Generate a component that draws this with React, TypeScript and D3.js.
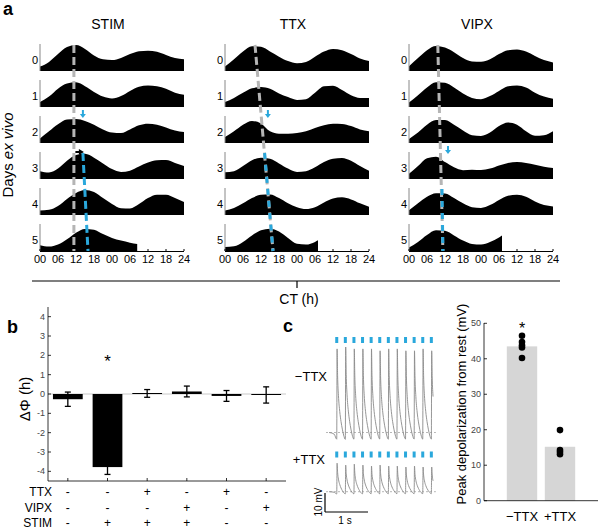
import React from 'react';
import * as d3 from 'd3';

// ---------------- Panel a data ----------------
const HOURS = [0, 3, 6, 9, 12, 15, 18, 21, 24, 27, 30, 33, 36, 39, 42, 45, 48];
const DAY_LABELS = ['0', '1', '2', '3', '4', '5'];
const CT_TICKS = [0, 6, 12, 18, 24, 30, 36, 42, 48];
const CT_TICK_LABELS = ['00', '06', '12', '18', '00', '06', '12', '18', '24'];
const PANEL_TITLES = ['STIM', 'TTX', 'VIPX'];

const STIM_ROWS = [
  [0.17, 0.35, 0.65, 0.92, 1.0, 0.85, 0.6, 0.45, 0.42, 0.5, 0.65, 0.76, 0.78, 0.74, 0.62, 0.5, 0.45],
  [0.19, 0.4, 0.7, 0.9, 0.95, 0.8, 0.58, 0.4, 0.33, 0.42, 0.62, 0.78, 0.83, 0.8, 0.7, 0.55, 0.47],
  [0.17, 0.45, 0.72, 0.9, 0.92, 0.85, 0.7, 0.52, 0.4, 0.38, 0.52, 0.68, 0.74, 0.7, 0.6, 0.48, 0.42],
  [0.3, 0.25, 0.4, 0.7, 0.92, 0.97, 0.82, 0.6, 0.38, 0.27, 0.32, 0.48, 0.63, 0.72, 0.73, 0.62, 0.5],
  [0.17, 0.2, 0.35, 0.62, 0.85, 0.96, 0.88, 0.65, 0.42, 0.26, 0.25, 0.42, 0.65, 0.78, 0.78, 0.65, 0.5],
  [0.22, 0.17, 0.25, 0.45, 0.7, 0.85, 0.82, 0.65, 0.5, 0.4, 0.32, 0.27],
];
const TTX_ROWS = [
  [0.17, 0.45, 0.75, 0.95, 0.93, 0.75, 0.55, 0.38, 0.3, 0.35, 0.55, 0.75, 0.85, 0.8, 0.65, 0.48, 0.38],
  [0.19, 0.35, 0.55, 0.72, 0.77, 0.7, 0.52, 0.38, 0.27, 0.3, 0.55, 0.8, 0.82, 0.65, 0.45, 0.35, 0.35],
  [0.23, 0.45, 0.7, 0.85, 0.75, 0.45, 0.36, 0.36, 0.38, 0.45, 0.58, 0.68, 0.74, 0.73, 0.65, 0.52, 0.45],
  [0.26, 0.3, 0.5, 0.72, 0.82, 0.78, 0.6, 0.4, 0.27, 0.3, 0.45, 0.65, 0.78, 0.81, 0.7, 0.5, 0.32],
  [0.17, 0.27, 0.45, 0.65, 0.78, 0.79, 0.65, 0.45, 0.3, 0.23, 0.3, 0.48, 0.63, 0.68, 0.6, 0.45, 0.32],
  [0.15, 0.18, 0.35, 0.6, 0.8, 0.86, 0.75, 0.5, 0.28, 0.25, 0.35, 0.41],
];
const VIPX_ROWS = [
  [0.18, 0.5, 0.8, 0.96, 0.9, 0.72, 0.5, 0.37, 0.36, 0.45, 0.65, 0.8, 0.83, 0.75, 0.58, 0.42, 0.33],
  [0.17, 0.45, 0.75, 0.95, 0.93, 0.75, 0.52, 0.35, 0.3, 0.42, 0.62, 0.8, 0.83, 0.75, 0.55, 0.4, 0.32],
  [0.15, 0.4, 0.7, 0.88, 0.88, 0.7, 0.48, 0.3, 0.27, 0.4, 0.65, 0.79, 0.7, 0.45, 0.28, 0.3, 0.45],
  [0.2, 0.5, 0.8, 0.86, 0.65, 0.45, 0.34, 0.36, 0.35, 0.4, 0.52, 0.62, 0.65, 0.62, 0.55, 0.47, 0.42],
  [0.18, 0.45, 0.7, 0.84, 0.83, 0.65, 0.45, 0.3, 0.27, 0.38, 0.58, 0.74, 0.78, 0.7, 0.52, 0.38, 0.33],
  [0.13, 0.35, 0.62, 0.8, 0.78, 0.6, 0.4, 0.27, 0.25, 0.35, 0.52, 0.6],
];
const PANEL_ROWS = [STIM_ROWS, TTX_ROWS, VIPX_ROWS];
const LAST_DAY_END = [32.4, 31, 31];

const GRAY_START_HOUR = [11.3, 10, 9.6];
const GRAY_END_HOUR = [11.3, 16, 11.3];
const BLUE_START_ROW = [3, 3, 4];
const BLUE_START_HOUR = [14.3, 13.2, 11];
const BLUE_END_HOUR = [16, 16, 11.3];
const BLUE_ARROW_ROW = [2, 2, 3];
const BLUE_ARROW_HOUR = [14.3, 14.3, 13];
const BLACK_ARROW_FROM = 11.8;
const BLACK_ARROW_TO = 14.3;

// ---------------- Panel b data ----------------
const B_CATS = ['g1', 'g2', 'g3', 'g4', 'g5', 'g6'];
const B_VALUES = [-0.27, -3.78, 0.03, 0.13, -0.1, -0.05];
const B_ERR = [0.37, 0.38, 0.2, 0.28, 0.28, 0.42];
const B_TICKS = [-4, -3, -2, -1, 0, 1, 2, 3, 4];
const B_TABLE_ROWS = ['TTX', 'VIPX', 'STIM'];
const B_TABLE = [
  ['-', '-', '+', '-', '+', '-'],
  ['-', '-', '-', '+', '-', '+'],
  ['-', '+', '+', '+', '-', '-'],
];

// ---------------- Panel c data ----------------
const PULSE_PERIOD = 0.2;
const FIRST_PULSE = 0.18;
const TRACE_END = 2.44;
const KERNEL_T = [0, 0.008, 0.02, 0.04, 0.07, 0.1, 0.13, 0.16, 0.2];
const KERNEL_V = [-0.08, 1.0, 0.68, 0.44, 0.25, 0.13, 0.04, -0.03, -0.08];
const MINUS_TTX_PEAKS = [44, 45, 44, 44, 44, 43, 44, 44, 43, 43, 44, 43];
const PLUS_TTX_PEAKS = [15, 14, 14.5, 14, 13.5, 14, 13.5, 13.5, 13, 13.5, 13, 13];
const C_CATS = ['\u2212TTX', '+TTX'];
const C_MEANS = [43.5, 15.2];
const C_POINTS = [
  [46.5, 44.7, 43.8, 43.2, 40.2],
  [19.9, 14.3, 13.7, 13.1],
];
const C_TICKS = [0, 10, 20, 30, 40, 50];

const FONT = '"Liberation Sans", Arial, Helvetica, sans-serif';
const BLUE = '#2aa8dc';
const GRAY_DASH = '#b5b5b5';

function PanelA() {
  const lefts = [40, 225, 409];
  const W = 144;
  const ROW_H = 26;
  const base = (i: number) => 71 + 36 * i;
  const els: React.ReactNode[] = [];
  PANEL_ROWS.forEach((rows, p) => {
    const x = d3.scaleLinear().domain([0, 48]).range([lefts[p], lefts[p] + W]);
    els.push(
      <text key={`t${p}`} x={x(24) - 4} y={29} fontSize={14} textAnchor="middle">
        {PANEL_TITLES[p]}
      </text>
    );
    rows.forEach((vals, r) => {
      const b = base(r);
      const last = r === rows.length - 1;
      const pts: [number, number][] = vals.map((v, i) => [
        last && i === vals.length - 1 ? LAST_DAY_END[p] : HOURS[i],
        v,
      ]);
      const area = d3
        .area<[number, number]>()
        .x((d) => x(d[0]))
        .y0(b)
        .y1((d) => b - d[1] * ROW_H)
        .curve(d3.curveMonotoneX);
      els.push(<path key={`a${p}-${r}`} d={area(pts) || ''} fill="#000" />);
      els.push(
        <line key={`ax${p}-${r}`} x1={x(0)} x2={x(0)} y1={b - ROW_H - 1} y2={b} stroke="#888" strokeWidth={1} />
      );
      els.push(
        <text key={`dl${p}-${r}`} x={x(0) - 2} y={b - 7} fontSize={11} textAnchor="end">
          {DAY_LABELS[r]}
        </text>
      );
    });
    const by = base(5);
    els.push(<line key={`xa${p}`} x1={x(0)} x2={x(48)} y1={by + 0.5} y2={by + 0.5} stroke="#000" strokeWidth={1} />);
    CT_TICKS.forEach((h, i) => {
      els.push(<line key={`tk${p}-${i}`} x1={x(h)} x2={x(h)} y1={by} y2={by - 2} stroke="#000" strokeWidth={1} />);
      els.push(
        <text key={`tl${p}-${i}`} x={x(h)} y={by + 12} fontSize={11} textAnchor="middle">
          {CT_TICK_LABELS[i]}
        </text>
      );
    });
    // dashed phase lines
    const topY = base(0) - ROW_H;
    els.push(
      <line key={`g${p}`} x1={x(GRAY_START_HOUR[p])} y1={topY} x2={x(GRAY_END_HOUR[p])} y2={by}
        stroke={GRAY_DASH} strokeWidth={3} strokeDasharray="8 4" />
    );
    const bTop = base(BLUE_START_ROW[p]) - ROW_H;
    els.push(
      <line key={`bl${p}`} x1={x(BLUE_START_HOUR[p])} y1={bTop} x2={x(BLUE_END_HOUR[p])} y2={by}
        stroke={BLUE} strokeWidth={3} strokeDasharray={p === 0 ? '8 4' : '6 6'} />
    );
    // blue arrow
    const ay = base(BLUE_ARROW_ROW[p]) - ROW_H;
    const ax = x(BLUE_ARROW_HOUR[p]);
    els.push(
      <g key={`ba${p}`}>
        <line x1={ax} x2={ax} y1={ay - 7} y2={ay - 2} stroke={BLUE} strokeWidth={2} />
        <path d={`M${ax - 3},${ay - 3} L${ax + 3},${ay - 3} L${ax},${ay + 1} Z`} fill={BLUE} />
      </g>
    );
    if (p === 0) {
      const ky = base(3) - ROW_H - 1;
      const kx1 = x(BLACK_ARROW_FROM);
      const kx2 = x(BLACK_ARROW_TO);
      els.push(
        <g key="karrow">
          <line x1={kx1} x2={kx2 - 3} y1={ky} y2={ky} stroke="#000" strokeWidth={2} />
          <path d={`M${kx2 - 4},${ky - 3} L${kx2 + 1},${ky} L${kx2 - 4},${ky + 3} Z`} fill="#000" />
        </g>
      );
    }
  });
  return (
    <g>
      <text x={3} y={15} fontSize={18} fontWeight="bold">a</text>
      <text transform="translate(13,155) rotate(-90)" fontSize={15} textAnchor="middle">
        Days <tspan fontStyle="italic">ex vivo</tspan>
      </text>
      {els}
      <line x1={32} x2={560} y1={281} y2={281} stroke="#000" strokeWidth={1.2} />
      <line x1={297} x2={297} y1={281} y2={288} stroke="#000" strokeWidth={1.2} />
      <text x={299} y={304} fontSize={14} textAnchor="middle">CT (h)</text>
    </g>
  );
}

function PanelB() {
  const y = d3.scaleLinear().domain([-4.5, 4.5]).range([481, 307]);
  const x = d3.scaleBand().domain(B_CATS).range([48, 286]).paddingInner(0.25).paddingOuter(0.125);
  const bw = x.bandwidth();
  const rowY = (r: number) => 496 + 15.5 * r;
  return (
    <g>
      <text x={7} y={333} fontSize={18} fontWeight="bold">b</text>
      <text transform="translate(30,399) rotate(-90)" fontSize={15} textAnchor="middle">
        ΔΦ (h)
      </text>
      <line x1={48} x2={286} y1={y(0)} y2={y(0)} stroke="#bbb" strokeWidth={0.8} />
      {B_CATS.map((c, i) => {
        const v = B_VALUES[i];
        const cx = (x(c) || 0) + bw / 2;
        const h = Math.max(1, Math.abs(y(v) - y(0)));
        const lo = y(v - B_ERR[i]);
        const hi = y(v + B_ERR[i]);
        return (
          <g key={c}>
            <rect x={x(c)} y={v >= 0 ? y(0) - h : y(0)} width={bw} height={h} fill="#000" />
            <line x1={cx} x2={cx} y1={lo} y2={hi} stroke="#000" strokeWidth={1.3} />
            <line x1={cx - 3} x2={cx + 3} y1={lo} y2={lo} stroke="#000" strokeWidth={1.3} />
            <line x1={cx - 3} x2={cx + 3} y1={hi} y2={hi} stroke="#000" strokeWidth={1.3} />
            <line x1={cx} x2={cx} y1={481} y2={478} stroke="#000" strokeWidth={0.8} />
            {B_TABLE.map((row, r) => (
              <text key={r} x={cx} y={rowY(r)} fontSize={12} textAnchor="middle">
                {row[i]}
              </text>
            ))}
          </g>
        );
      })}
      <text x={(x('g2') || 0) + bw / 2} y={y(1.75) + 7} fontSize={17} textAnchor="middle">*</text>
      <line x1={48} x2={48} y1={307} y2={481} stroke="#000" strokeWidth={0.8} />
      <line x1={48} x2={286} y1={481} y2={481} stroke="#000" strokeWidth={0.8} />
      {B_TICKS.map((t) => (
        <g key={t}>
          <line x1={48} x2={51} y1={y(t)} y2={y(t)} stroke="#000" strokeWidth={0.8} />
          <text x={45} y={y(t) + 3} fontSize={9} fill="#444" textAnchor="end">{t}</text>
        </g>
      ))}
      {B_TABLE_ROWS.map((lab, r) => (
        <text key={lab} x={52} y={rowY(r)} fontSize={12} textAnchor="end">{lab}</text>
      ))}
    </g>
  );
}

function Trace({ peaks, baseY, pulseY }: { peaks: number[]; baseY: number; pulseY: number }) {
  const x = d3.scaleLinear().domain([0, 1]).range([329, 329 + 43]);
  const mv = 1.9;
  const pts: [number, number][] = [[0, 0], [FIRST_PULSE - 0.06, -0.02 * peaks[0]]];
  peaks.forEach((pk, i) => {
    const t0 = FIRST_PULSE + i * PULSE_PERIOD;
    KERNEL_T.forEach((kt, k) => {
      if (i < peaks.length - 1 && k === KERNEL_T.length - 1) return;
      const t = t0 + kt;
      if (t <= TRACE_END) pts.push([t, KERNEL_V[k] * pk]);
    });
  });
  const line = d3
    .line<[number, number]>()
    .x((d) => x(d[0]))
    .y((d) => baseY - d[1] * mv)
    .curve(d3.curveMonotoneX);
  return (
    <g>
      <line x1={x(0) - 3} x2={x(TRACE_END) + 2} y1={baseY} y2={baseY} stroke="#999" strokeWidth={0.7} strokeDasharray="2 2" />
      <path d={line(pts) || ''} fill="none" stroke="#8a8a8a" strokeWidth={0.9} />
      {peaks.map((_, i) => (
        <rect key={i} x={x(FIRST_PULSE + i * PULSE_PERIOD) - 1.5} y={pulseY} width={3} height={6} fill={BLUE} />
      ))}
    </g>
  );
}

function PanelC() {
  const y = d3.scaleLinear().domain([0, 50]).range([500.7, 323.3]);
  const x = d3.scaleBand().domain(C_CATS).range([503, 579]).paddingInner(0.2).paddingOuter(0.1);
  const bw = x.bandwidth();
  return (
    <g>
      <text x={283} y={332} fontSize={18} fontWeight="bold">c</text>
      <Trace peaks={MINUS_TTX_PEAKS} baseY={432.5} pulseY={337} />
      <Trace peaks={PLUS_TTX_PEAKS} baseY={491.7} pulseY={451.5} />
      <text x={327} y={381} fontSize={13} textAnchor="end">{'\u2212TTX'}</text>
      <text x={325} y={464} fontSize={13} textAnchor="end">+TTX</text>
      <line x1={325} x2={325} y1={493} y2={512} stroke="#000" strokeWidth={1.2} />
      <line x1={325} x2={368} y1={512} y2={512} stroke="#000" strokeWidth={1.2} />
      <text transform="translate(322,502) rotate(-90)" fontSize={10} textAnchor="middle">10 mV</text>
      <text x={345} y={524} fontSize={10} textAnchor="middle">1 s</text>

      {C_CATS.map((c, i) => {
        const cx = (x(c) || 0) + bw / 2;
        return (
          <g key={c}>
            <rect x={x(c)} y={y(C_MEANS[i])} width={bw} height={y(0) - y(C_MEANS[i])} fill="#d6d6d6" />
            {C_POINTS[i].map((v, k) => (
              <circle key={k} cx={cx} cy={y(v)} r={3.3} fill="#000" />
            ))}
            <text x={cx} y={521} fontSize={13} textAnchor="middle">{c}</text>
          </g>
        );
      })}
      <text x={(x(C_CATS[0]) || 0) + bw / 2} y={y(49.3) + 8} fontSize={16} textAnchor="middle">*</text>
      <line x1={484} x2={484} y1={323} y2={500.7} stroke="#000" strokeWidth={0.8} />
      <line x1={484} x2={598} y1={500.7} y2={500.7} stroke="#000" strokeWidth={0.8} />
      {C_TICKS.map((t) => (
        <g key={t}>
          <line x1={484} x2={487} y1={y(t)} y2={y(t)} stroke="#000" strokeWidth={0.8} />
          <text x={481} y={y(t) + 3} fontSize={9} fill="#444" textAnchor="end">{t}</text>
        </g>
      ))}
      <text transform="translate(466,404) rotate(-90)" fontSize={13} textAnchor="middle">
        Peak depolarization from rest (mV)
      </text>
    </g>
  );
}

export default function App() {
  return (
    <svg
      width={600}
      height={531}
      style={{ position: 'absolute', left: 0, top: 0, background: '#fff' }}
      fontFamily={FONT}
    >
      <rect width={600} height={531} fill="#fff" />
      <PanelA />
      <PanelB />
      <PanelC />
    </svg>
  );
}
